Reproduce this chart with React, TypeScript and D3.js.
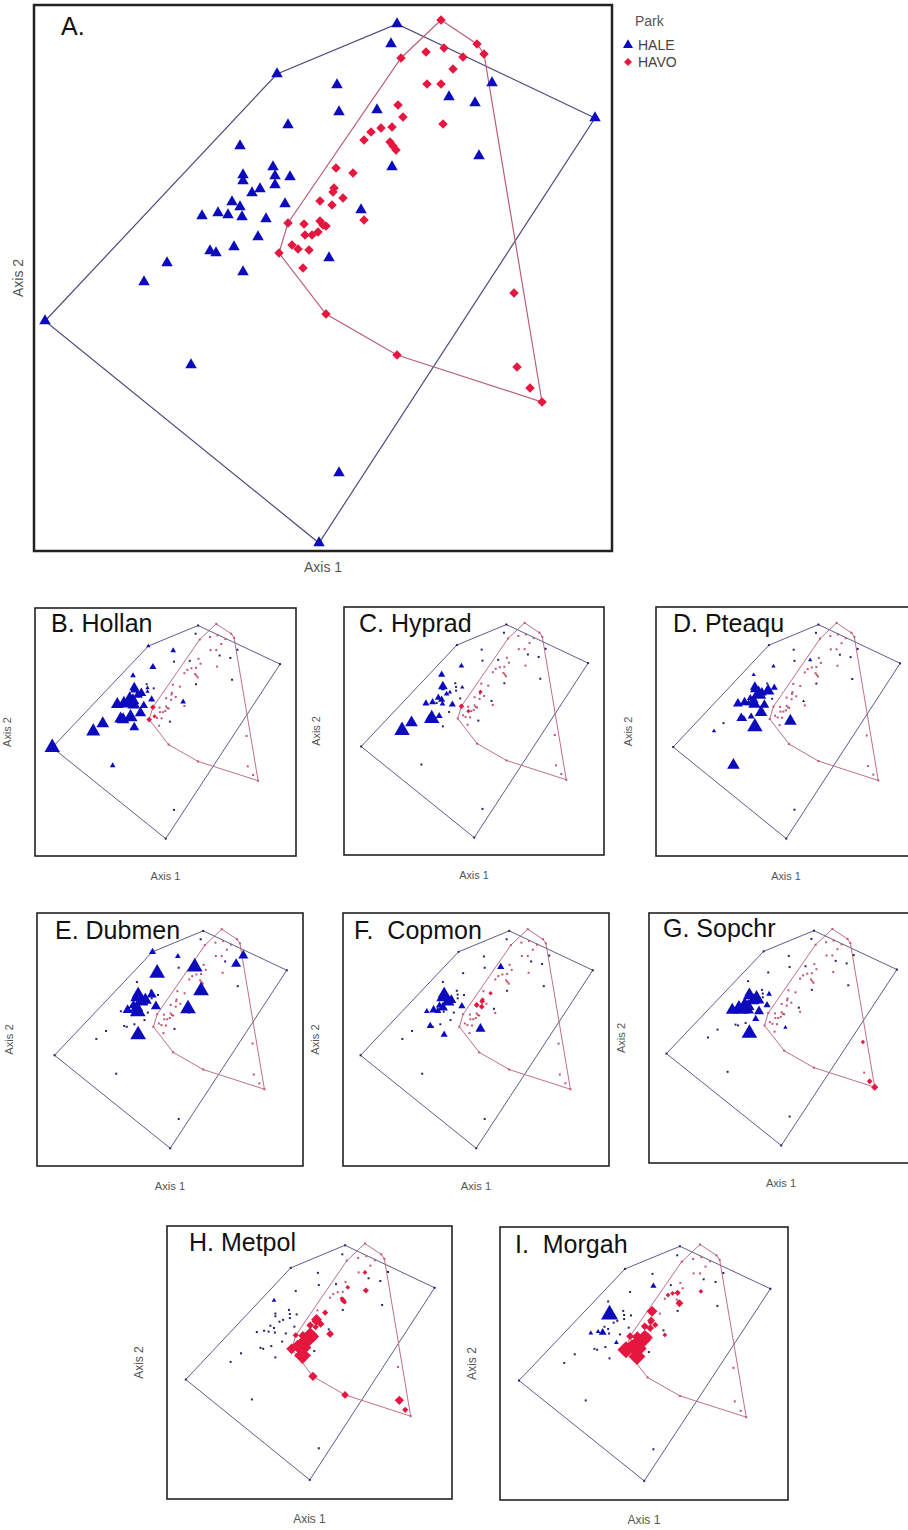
import React from 'react';
import * as d3 from 'd3';

// Ordination scores per plot. HALE = Haleakala, HAVO = Hawaii Volcanoes
const haleAxis1 = [0.77, 0.71, -0.43, 0.17, 1.72, 1.29, 1.55, 0.19, 0.57, 2.75, -0.32, 1.59, 0.72, -0.80, -0.47, -0.77, -0.45, -0.30, -0.77, -0.45, -0.60, -0.68, -0.35, -0.88, -0.80, -1.02, -1.18, -0.92, -0.78, -0.54, 0.41, -0.62, -0.86, -1.10, -1.04, 0.09, -1.53, -0.77, -1.76, -2.75, -1.29, 0.19, -0.01];
const haleAxis2 = [2.56, 2.36, 2.06, 1.95, 1.97, 1.83, 1.77, 1.68, 1.70, 1.62, 1.55, 1.24, 1.13, 1.34, 1.13, 1.05, 1.04, 1.03, 0.99, 0.95, 0.91, 0.87, 0.76, 0.78, 0.73, 0.67, 0.64, 0.65, 0.63, 0.61, 0.70, 0.43, 0.33, 0.29, 0.27, 0.22, 0.17, 0.08, -0.02, -0.41, -0.85, -1.93, -2.63];
const havoAxis1 = [1.21, 1.57, 1.64, 1.06, 1.24, 1.43, 0.81, 1.33, 1.07, 1.21, 0.78, 0.83, 1.23, 0.72, 0.61, 0.51, 0.44, 0.70, 0.73, 0.76, 0.16, 0.33, 0.14, 0.13, 0.23, 0.00, 0.12, 0.44, -0.32, -0.16, 0.00, 0.03, 0.06, -0.02, -0.08, -0.15, -0.28, -0.22, -0.11, -0.41, -0.17, 1.94, 0.06, 0.77, 1.97, 2.10, 2.22];
const havoAxis2 = [2.60, 2.36, 2.26, 2.28, 2.32, 2.23, 2.22, 2.11, 1.96, 1.96, 1.75, 1.63, 1.56, 1.53, 1.52, 1.48, 1.40, 1.38, 1.34, 1.30, 1.12, 1.07, 0.92, 0.88, 0.82, 0.79, 0.75, 0.60, 0.57, 0.56, 0.59, 0.55, 0.54, 0.48, 0.45, 0.45, 0.35, 0.31, 0.30, 0.27, 0.12, -0.13, -0.34, -0.75, -0.87, -1.08, -1.22];

// species abundance per plot (relative symbol size, 0 = absent)
const hollanHale = [0, 0, 1, 1.5, 0, 0, 0, 0, 0, 0, 2, 0, 0, 1.5, 0, 3, 1, 0, 2.5, 1, 3, 3, 2, 4, 4, 4, 4, 4, 4, 2.5, 1.5, 3.5, 4.5, 4, 4, 0, 4, 3, 4.5, 5, 1.5, 0, 0];
const hollanHavo = [0, 0, 0, 0, 0, 0, 0, 0, 0, 0, 0, 0, 0, 0, 0, 0, 0, 0, 0, 0, 0, 0, 0, 0, 0, 0, 0, 0, 1.5, 0, 0, 0, 0, 0, 0, 0, 1, 0, 0, 1.5, 0, 0, 0, 0, 0, 0, 0];
const hypradHale = [0, 0, 0, 0, 0, 0, 0, 0, 0, 0, 1.5, 0, 0, 2, 0, 3, 0, 1, 1, 0, 1, 1.5, 0, 2, 2, 2, 2, 0, 1.5, 2, 0, 0, 2, 2, 5, 0, 4, 0, 5, 0, 0, 0, 0];
const hypradHavo = [0, 0, 0, 0, 0, 0, 0, 0, 0, 0, 0, 0, 0, 0, 0, 0, 0, 0, 0, 0, 0, 0, 1, 0, 0, 0, 0, 0, 1.5, 0, 0, 0, 0, 0, 0, 1, 0, 0, 0, 0, 0, 0, 0, 0, 0, 0, 0];
const pteaquHale = [0, 0, 0, 0, 0, 0, 0, 0, 1, 0, 1, 0, 0, 1, 0, 3, 0, 2, 3, 4, 3, 5, 0, 2, 3, 3, 3, 2, 4, 3, 0.5, 4, 2, 3, 2, 4, 0, 5, 1, 0, 4, 0, 0];
const pteaquHavo = [0, 0, 0, 0, 0, 0, 0, 0, 0, 0, 0, 0, 0, 0, 0, 0, 0, 0, 0, 0, 0, 0, 0, 0, 0, 0, 0, 0, 0, 0, 0, 0, 0, 0, 0, 0, 0, 0, 0, 0, 0, 0, 0, 0, 0, 0, 0];
const dubmenHale = [0, 0, 2, 1.5, 3, 0, 3, 0, 5, 0, 5, 0, 5, 0, 0, 4, 3, 0, 5, 0, 4, 4, 3, 3, 4, 3, 0, 0, 5, 0, 5, 0, 0, 0, 0, 0, 0, 5, 0, 0, 0, 0, 0];
const dubmenHavo = [0, 0, 0, 0, 0, 0, 0, 0, 0, 0, 0, 0, 0, 0, 0, 0, 0, 0, 0, 0, 0, 0, 0, 0, 0, 0, 0, 0, 0, 0, 0, 0, 0, 0, 0, 0, 0, 0, 0, 0, 0, 0, 0, 0, 0, 0, 0];
const copmonHale = [0, 0, 0, 0, 0, 0, 0, 0, 2, 0, 0, 0, 0, 0, 0, 4, 0, 0, 5, 0, 3, 4, 2, 2, 3, 2.5, 1.5, 2, 0, 0, 0, 0, 0, 2, 0, 3, 0, 2, 0, 0, 0, 0, 0];
const copmonHavo = [0, 0, 0, 0, 0, 0, 0, 0, 0, 0, 0, 0, 0, 0, 0, 0, 0, 0, 0, 0, 0, 1, 1, 1.5, 0, 1.5, 1.5, 0, 0, 0, 0, 0, 0, 0, 0, 0, 0, 0, 0, 0, 0, 0, 0, 0, 0, 0, 0];
const sopchrHale = [0, 0, 0, 0, 0, 0, 0, 0, 0, 0, 0, 0, 0, 0, 0, 3, 0, 1.5, 4, 0, 5, 4, 2, 4, 4, 5, 4, 4, 3, 3, 0, 2, 0, 0, 0, 1, 0, 5, 0, 0, 0, 0, 0];
const sopchrHavo = [0, 0, 0, 0, 0, 0, 0, 0, 0, 0, 0, 0, 0, 0, 0, 0, 0, 0, 0, 0, 0, 0, 0, 0, 0, 0, 0, 0, 0, 0, 0, 0, 0, 0, 0, 0, 0, 0, 0, 0, 0, 1, 0, 0, 0, 1.5, 2];
const metpolHale = [0, 0, 0, 0, 0, 0, 0, 0, 0, 0, 0, 0, 0, 1, 0, 0, 0, 0, 0, 0, 0, 0, 0, 0, 0, 0, 0, 0, 0, 0, 0, 0, 0, 0, 0, 0, 0, 0, 0, 0, 0, 0, 0];
const metpolHavo = [0, 0, 0, 0, 0, 0, 0, 0, 0, 1, 0, 1, 1.5, 0, 0, 0, 0, 1, 1.5, 1, 0, 1.5, 3, 2.5, 2, 2, 1.5, 2, 1.5, 2.5, 4, 4, 3.5, 4, 4, 3, 3, 5, 3.5, 3, 5, 0, 2.5, 2, 2.5, 1.5, 0];
const morgahHale = [0, 0, 0, 0, 0, 0, 0, 1.5, 0, 0, 0, 0, 0, 0, 0, 5, 0, 0, 0, 0, 0, 0, 0, 0, 0, 1, 1, 2, 0, 0, 0, 1, 0, 0, 0, 0, 0, 0, 0, 0, 0, 0, 0];
const morgahHavo = [0, 0, 0, 0, 0, 0, 0, 0, 0, 0, 0, 0, 1, 1.5, 1, 1, 0, 0, 0, 2, 3, 0, 2, 1.5, 1.5, 2, 2, 1, 2, 3, 3, 3, 3, 4, 4, 4, 4, 5, 4, 5, 5, 0, 0, 0, 0, 0, 0];

const speciesTitles = ['B. Hollan', 'C. Hyprad', 'D. Pteaqu', 'E. Dubmen', 'F.  Copmon', 'G. Sopchr', 'H. Metpol', 'I.  Morgah'];
const speciesHale = [hollanHale, hypradHale, pteaquHale, dubmenHale, copmonHale, sopchrHale, metpolHale, morgahHale];
const speciesHavo = [hollanHavo, hypradHavo, pteaquHavo, dubmenHavo, copmonHavo, sopchrHavo, metpolHavo, morgahHavo];

const FONT = '"Liberation Sans", Arial, Helvetica, sans-serif';
const BLUE = '#0b0bbd';
const RED = '#e5173f';
const BLUE_HULL = '#4b4b7d';
const RED_HULL = '#b7607a';
const BLUE_DOT = '#23236e';
const RED_DOT = '#c4566f';

// box positions of the small panels, and where each title sits
const panels = [
  { x: 35, y: 608, w: 261, h: 248, tx: 51, ty: 632 },
  { x: 344, y: 607, w: 260, h: 248, tx: 359, ty: 632 },
  { x: 656, y: 607, w: 260, h: 249, tx: 673, ty: 632 },
  { x: 37, y: 913, w: 266, h: 253, tx: 55, ty: 939 },
  { x: 343, y: 913, w: 266, h: 253, tx: 354, ty: 939 },
  { x: 649, y: 913, w: 264, h: 250, tx: 663, ty: 937 },
  { x: 167, y: 1226, w: 285, h: 273, tx: 189, ty: 1251 },
  { x: 500, y: 1227, w: 288, h: 273, tx: 515, ty: 1253 },
];

const triPath = (side: number) => d3.symbol().type(d3.symbolTriangle).size((side * side * Math.sqrt(3)) / 4)() as string;
const diaPath = (across: number) => d3.symbol().type(d3.symbolSquare).size((across * across) / 2)() as string;

const hullPath = (pts: [number, number][]) => {
  const h = d3.polygonHull(pts);
  return h ? 'M' + h.map(p => p.join(',')).join('L') + 'Z' : '';
};

const allAxis1 = haleAxis1.concat(havoAxis1);
const allAxis2 = haleAxis2.concat(havoAxis2);

function MainPanel() {
  const x = d3.scaleLinear().domain([-2.86, 2.92]).range([34, 612]);
  const y = d3.scaleLinear().domain([-2.71, 2.75]).range([551, 5]);
  const halePts = haleAxis1.map((v, i) => [x(v), y(haleAxis2[i])] as [number, number]);
  const havoPts = havoAxis1.map((v, i) => [x(v), y(havoAxis2[i])] as [number, number]);
  const tri = triPath(11.5);
  const dia = diaPath(9.5);
  return (
    <g>
      <rect x={34} y={5} width={578} height={546} fill="none" stroke="#222" strokeWidth={2.5} />
      <path d={hullPath(halePts)} fill="none" stroke={BLUE_HULL} strokeWidth={1.2} />
      <path d={hullPath(havoPts)} fill="none" stroke={RED_HULL} strokeWidth={1.2} />
      {halePts.map((p, i) => (
        <path key={'h' + i} d={tri} transform={`translate(${p[0]},${p[1]})`} fill={BLUE} />
      ))}
      {havoPts.map((p, i) => (
        <path key={'v' + i} d={dia} transform={`translate(${p[0]},${p[1]}) rotate(45)`} fill={RED} />
      ))}
      <text x={61} y={35} fontSize={25} fontFamily={FONT} fill="#111">A.</text>
      <text x={323} y={572} fontSize={14} fontFamily={FONT} fill="#555" textAnchor="middle">Axis 1</text>
      <text transform="translate(23,278) rotate(-90)" fontSize={14} fontFamily={FONT} fill="#555" textAnchor="middle">Axis 2</text>
      <text x={635} y={26} fontSize={14} fontFamily={FONT} fill="#555">Park</text>
      <path d={triPath(10)} transform="translate(628,45)" fill={BLUE} />
      <text x={638} y={50} fontSize={14} fontFamily={FONT} fill="#444">HALE</text>
      <path d={diaPath(8)} transform="translate(628,62) rotate(45)" fill={RED} />
      <text x={638} y={67} fontSize={14} fontFamily={FONT} fill="#444">HAVO</text>
    </g>
  );
}

function SmallPanel({ idx }: { idx: number }) {
  const b = panels[idx];
  const k = b.w / 262;
  const x = d3.scaleLinear()
    .domain(d3.extent(allAxis1) as [number, number])
    .range([b.x + 0.066 * b.w, b.x + b.w - 0.061 * b.w]);
  const y = d3.scaleLinear()
    .domain(d3.extent(allAxis2) as [number, number])
    .range([b.y + b.h - 0.07 * b.h, b.y + 0.064 * b.h]);
  const hale = speciesHale[idx];
  const havo = speciesHavo[idx];
  const halePts = haleAxis1.map((v, i) => [x(v), y(haleAxis2[i])] as [number, number]);
  const havoPts = havoAxis1.map((v, i) => [x(v), y(havoAxis2[i])] as [number, number]);
  const size = (v: number) => (1.5 + 2.8 * v) * k;

  const marks: { p: [number, number]; v: number; park: string }[] = [];
  halePts.forEach((p, i) => marks.push({ p, v: hale[i], park: 'HALE' }));
  havoPts.forEach((p, i) => marks.push({ p, v: havo[i], park: 'HAVO' }));
  const dots = marks.filter(m => m.v === 0);
  const big = marks.filter(m => m.v > 0).sort((a, c) => a.v - c.v);

  return (
    <g>
      <rect x={b.x} y={b.y} width={b.w} height={b.h} fill="none" stroke="#222" strokeWidth={1.6} />
      <path d={hullPath(halePts)} fill="none" stroke={BLUE_HULL} strokeWidth={0.9} />
      <path d={hullPath(havoPts)} fill="none" stroke={RED_HULL} strokeWidth={0.9} />
      {dots.map((m, i) => (
        <rect key={'d' + i} x={m.p[0] - 1} y={m.p[1] - 1} width={2} height={2}
          fill={m.park === 'HALE' ? BLUE_DOT : RED_DOT} />
      ))}
      {big.map((m, i) =>
        m.park === 'HALE' ? (
          <path key={'m' + i} d={triPath(size(m.v))} transform={`translate(${m.p[0]},${m.p[1]})`} fill={BLUE} />
        ) : (
          <path key={'m' + i} d={diaPath(size(m.v))} transform={`translate(${m.p[0]},${m.p[1]}) rotate(45)`} fill={RED} />
        )
      )}
      <text x={b.tx} y={b.ty} fontSize={25} fontFamily={FONT} fill="#111" style={{ whiteSpace: 'pre' }}>
        {speciesTitles[idx]}
      </text>
      <text x={b.x + b.w / 2} y={b.y + b.h + 24} fontSize={11 * k} fontFamily={FONT} fill="#555" textAnchor="middle">Axis 1</text>
      <text transform={`translate(${b.x - 24},${b.y + b.h / 2}) rotate(-90)`} fontSize={11 * k} fontFamily={FONT}
        fill="#555" textAnchor="middle">Axis 2</text>
    </g>
  );
}

export default function App() {
  return (
    <svg width={908} height={1530} style={{ position: 'absolute', left: 0, top: 0, background: '#fff' }}>
      <rect width={908} height={1530} fill="#fff" />
      <MainPanel />
      {speciesTitles.map((_, i) => (
        <SmallPanel key={i} idx={i} />
      ))}
    </svg>
  );
}
